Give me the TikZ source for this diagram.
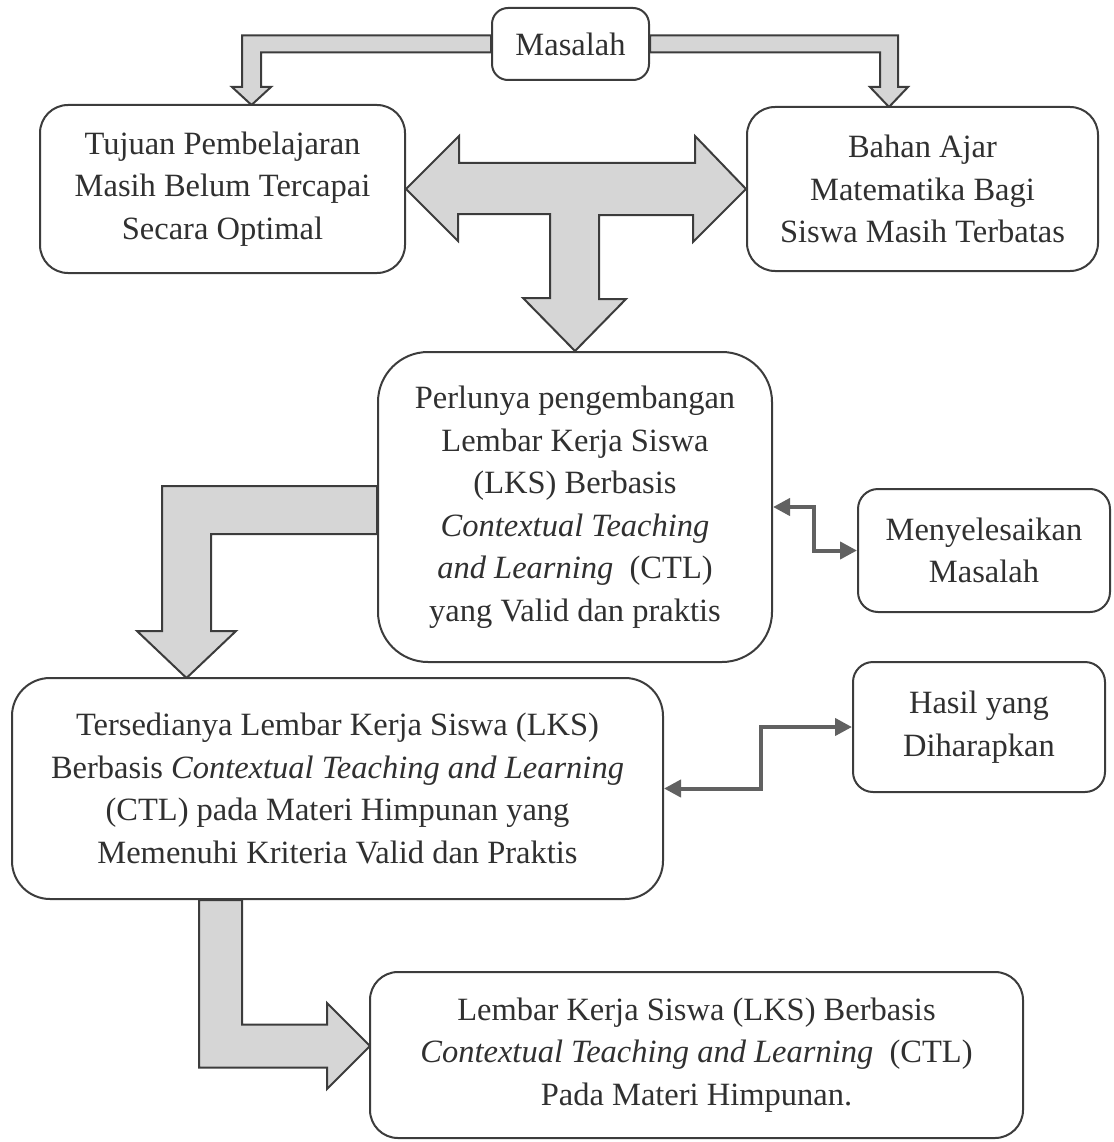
\documentclass[tikz,border=0pt]{standalone}
\usepackage{fontspec}
\setmainfont{Liberation Serif}
\usetikzlibrary{calc,arrows.meta,backgrounds}
\definecolor{edge}{HTML}{3C3C3C}
\definecolor{blockfill}{HTML}{D6D6D6}
\definecolor{linkgray}{HTML}{616161}
\definecolor{ink}{HTML}{303030}
\begin{document}
\begin{tikzpicture}[x=1pt,y=-1pt,
	box/.style={draw=edge, fill=white, line width=2pt, align=center, inner sep=0pt, text=ink, font=\fontsize{32.5}{42.5}\selectfont},
	blockarrow/.style={draw=edge, fill=blockfill, line width=2pt, line join=miter},
	link/.style={draw=linkgray, line width=4pt, {Triangle[length=17pt,width=17pt]}-{Triangle[length=17pt,width=17pt]}}]

		\useasboundingbox (0,0) rectangle (1113,1142);

		% boxes
		\node[box, rounded corners=16pt, minimum width=157pt, minimum height=72pt] (masalah) at (570.5,44) {Masalah};
		\node[box, rounded corners=28pt, minimum width=365pt, minimum height=168pt] (tujuan) at (222.5,189) {Tujuan Pembelajaran\\Masih Belum Tercapai\\Secara Optimal};
		\node[box, rounded corners=28pt, minimum width=351pt, minimum height=164pt] (bahan) at (922.5,189) {Bahan Ajar\\Matematika Bagi\\Siswa Masih Terbatas};
		\node[box, rounded corners=50pt, minimum width=394pt, minimum height=310pt] (perlunya) at (575,507) {Perlunya pengembangan\\Lembar Kerja Siswa\\(LKS) Berbasis\\\textit{Contextual Teaching}\\\textit{and Learning}\ \ (CTL)\\yang Valid dan praktis};
		\node[box, rounded corners=20pt, minimum width=252pt, minimum height=123pt] (menyel) at (984,550.5) {Menyelesaikan\\Masalah};
		\node[box, rounded corners=38pt, minimum width=651pt, minimum height=221pt] (tersed) at (337.5,788.5) {Tersedianya Lembar Kerja Siswa (LKS)\\Berbasis \textit{Contextual Teaching and Learning}\\(CTL) pada Materi Himpunan yang\\Memenuhi Kriteria Valid dan Praktis};
		\node[box, rounded corners=20pt, minimum width=252pt, minimum height=130pt] (hasil) at (979,727) {Hasil yang\\Diharapkan};
		\node[box, rounded corners=28pt, minimum width=653pt, minimum height=166pt] (lembar) at (696.5,1055) {Lembar Kerja Siswa (LKS) Berbasis\\\textit{Contextual Teaching and Learning}\ \ (CTL)\\Pada Materi Himpunan.};

		% block arrows
		\begin{pgfonlayer}{background}
		\draw[blockarrow] ($(masalah.west)+(0,-8.5)$) -- ++(-249,0) -- ++(0,51.5) -- ++(-10,0) -- ++(19.5,18) -- ++(19.5,-18) -- ++(-10,0) -- ++(0,-34.5) -- ++(230,0) -- cycle;
		\draw[blockarrow] ($(masalah.east)+(0,-8.5)$) -- ++(248,0) -- ++(0,51.5) -- ++(10,0) -- ++(-19,20) -- ++(-19,-20) -- ++(10,0) -- ++(0,-34.5) -- ++(-230,0) -- cycle;
		\draw[blockarrow] (tujuan.east) -- ++(53,-53) -- ++(0,27) -- ++(236,0) -- ++(0,-27) -- (bahan.west) -- ++(-53,53) -- ++(0,-27) -- ++(-94,0) -- ++(0,84) -- ++(27,0) -- (perlunya.north) -- ++(-52,-53) -- ++(27,0) -- ++(0,-84) -- ++(-92,0) -- ++(0,27) -- cycle;
		\draw[blockarrow] ($(perlunya.west)+(0,-21)$) -- ++(-215,0) -- ++(0,145) -- ++(-25,0) -- ++(49.5,47) -- ++(49.5,-47) -- ++(-25,0) -- ++(0,-97) -- ++(166,0) -- cycle;
		\draw[blockarrow] ($(tersed.south west)+(188,0)$) -- ++(0,167.5) -- ++(128,0) -- ++(0,21.5) -- ++(43,-43) -- ++(-43,-43) -- ++(0,21.5) -- ++(-85,0) -- ++(0,-124.5) -- cycle;
		\end{pgfonlayer}

		% thin links
		\draw[link] (perlunya.east) -- ++(41,0) |- (menyel.west);
		\draw[link] (tersed.east) -- ++(97,0) |- (hasil.west);

	\end{tikzpicture}
\end{document}
